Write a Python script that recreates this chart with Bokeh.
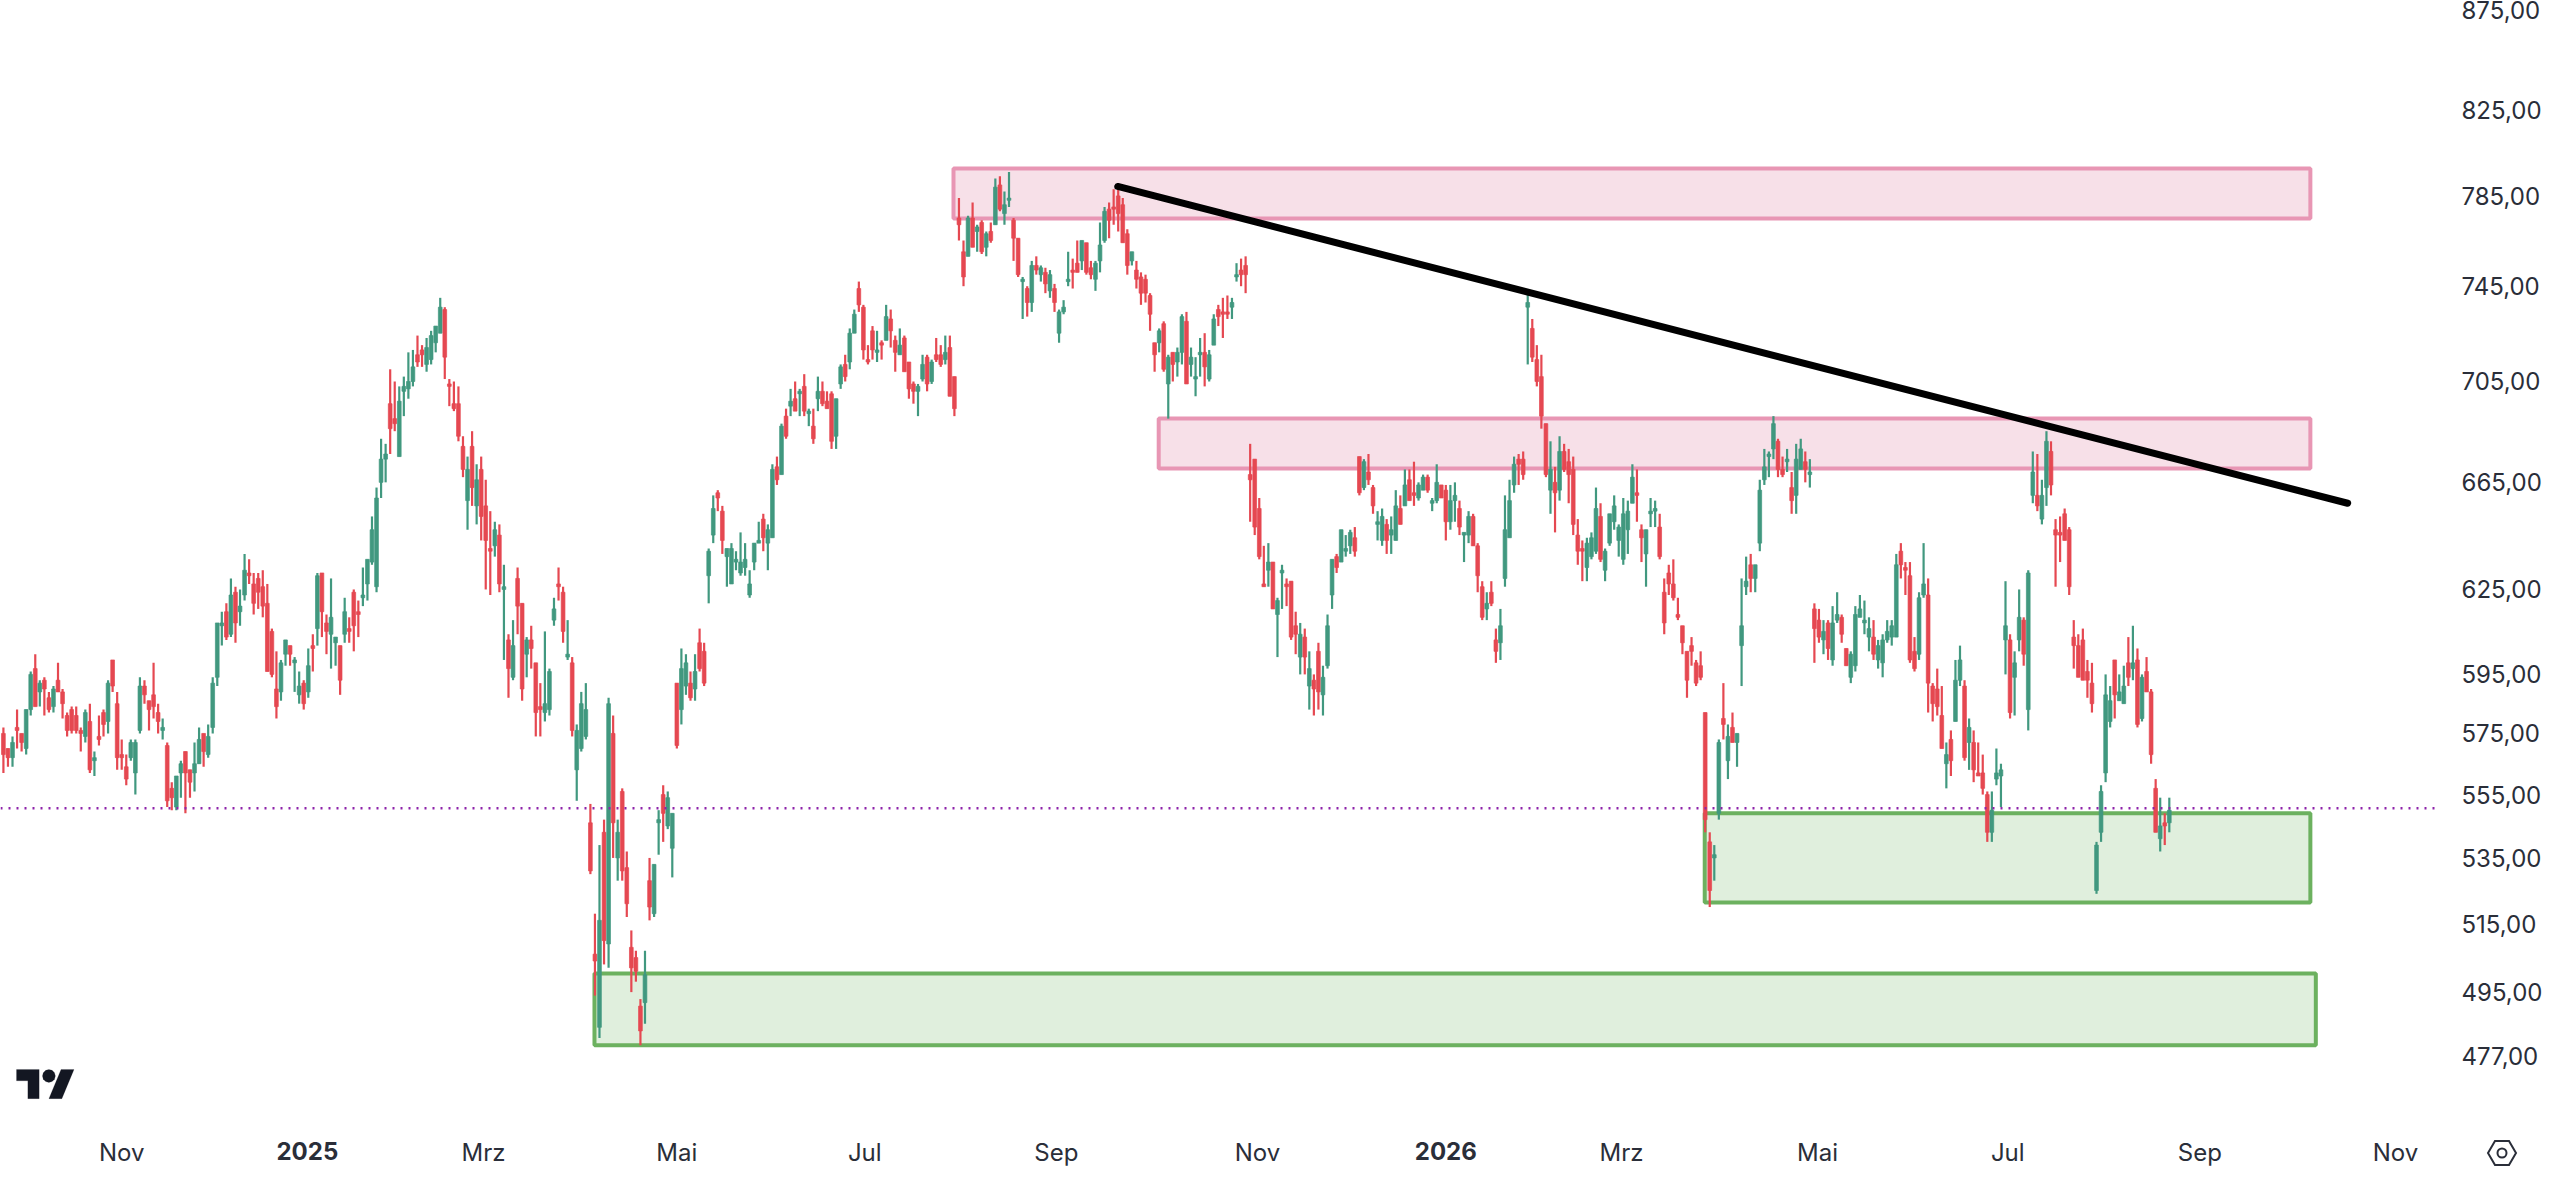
import math
from bokeh.plotting import figure
from bokeh.embed import file_html
from bokeh.resources import INLINE
from bokeh.models import Range1d, FixedTicker, LinearAxis, Span, PolyAnnotation, ColumnDataSource, Div

high = [
577,570,574,583,575,583,596,602,593,594, 589,591,599,590,582,584,584,577,583,585,
569,581,583,593,600,589,573,568,573,573, 594,593,586,599,585,580,572,559,561,566,
569,563,572,577,575,578,594,613,617,620, 629,626,625,638,636,631,631,632,627,611,
603,600,607,605,601,596,593,604,609,631, 631,616,629,608,605,622,615,625,621,633,
636,652,663,682,680,710,705,703,707,717, 718,724,720,723,726,728,740,736,706,705,
703,683,675,685,672,675,666,654,650,649, 634,609,614,633,620,608,612,599,592,610,
597,622,633,626,614,601,578,589,592,552, 518,539,547,587,581,547,557,537,513,507,
493,507,535,533,550,558,556,549,592,604, 602,596,602,611,606,640,660,662,656,640,
642,639,646,642,632,642,650,653,649,672, 675,688,694,702,705,702,708,694,694,707,
705,701,701,698,712,716,727,735,747,737, 720,728,726,722,737,735,724,727,724,713,
705,704,716,716,714,723,720,724,724,707, 784,765,776,782,772,774,769,773,793,794,
787,796,775,766,749,745,756,758,754,753, 752,746,735,739,760,757,765,765,764,756,
756,773,780,782,788,789,784,770,760,756, 751,750,742,721,727,730,716,717,719,733,
734,719,715,723,725,718,733,737,740,741, 740,755,757,758,680,674,659,641,642,635,
622,634,629,628,617,613,611,603,595,606, 598,616,636,638,647,645,647,648,675,674,
676,664,654,655,651,652,662,660,670,670, 673,665,668,668,659,672,664,664,664,665,
658,646,654,653,642,628,624,628,611,618, 660,666,675,676,677,743,731,720,716,688,
681,671,683,680,678,675,651,643,644,646, 663,657,640,653,660,649,659,658,672,670,
649,647,659,658,653,629,634,636,622,612, 603,608,600,603,582,543,539,573,592,578,
582,575,629,637,638,634,666,678,677,691, 682,675,678,669,680,682,677,674,620,618,
614,614,619,624,616,604,603,619,623,621, 615,614,607,609,614,614,638,642,635,635,
608,624,642,629,592,597,591,572,576,600, 605,593,580,576,572,568,556,556,570,565,
628,609,603,625,615,632,677,676,666,685, 681,651,652,655,648,614,609,611,600,599,
540,558,595,591,600,595,598,608,612,604, 595,601,590,560,554,549,554,
]
body_top = [
575,570,572,577,575,583,595,597,592,593, 587,590,593,589,581,583,581,576,582,579,
567,574,582,592,600,585,568,564,572,572, 591,591,586,588,582,577,571,557,561,565,
569,563,565,573,575,574,592,613,613,617, 623,624,619,632,631,627,629,626,620,610,
590,599,607,605,600,591,592,598,605,630, 631,613,615,608,605,617,611,624,617,623,
636,647,659,674,676,696,690,697,703,705, 711,716,718,719,724,728,736,735,704,696,
696,679,670,679,666,670,656,640,647,645, 626,607,605,629,620,607,607,599,584,585,
596,618,627,624,602,599,576,585,583,546, 506,516,543,585,575,543,556,532,508,505,
491,500,528,533,547,555,554,549,592,597, 599,592,596,606,603,639,655,661,654,640,
640,636,635,636,627,642,643,651,647,670, 671,687,691,697,698,701,703,693,687,701,
701,697,700,698,711,712,725,733,744,736, 714,726,718,721,732,731,722,720,723,713,
704,703,712,715,713,716,716,717,719,707, 775,760,775,775,771,773,768,769,789,790,
781,784,774,766,748,744,754,754,753,751, 750,744,734,736,748,752,755,765,764,753,
755,763,778,779,780,785,781,768,760,752, 749,748,741,721,726,729,715,717,717,732,
730,715,707,717,717,716,731,735,734,734, 738,750,752,754,668,674,655,627,635,635,
621,632,627,628,612,609,608,597,593,603, 594,612,636,637,647,640,646,644,675,673,
669,663,650,652,649,647,656,655,664,666, 661,664,667,667,658,665,664,662,658,660,
655,646,652,652,641,626,620,624,607,612, 647,658,672,674,674,738,727,714,707,688,
670,665,677,677,673,670,645,640,642,644, 655,652,639,653,656,648,653,654,667,661,
647,647,654,655,648,624,631,627,616,612, 603,605,599,598,582,540,536,572,580,574,
577,575,612,628,634,634,662,671,676,688, 681,670,674,663,674,678,673,669,618,614,
610,613,613,616,615,604,602,616,618,614, 611,608,605,607,610,612,634,639,633,630,
603,622,627,623,591,590,581,568,573,593, 600,591,577,572,562,562,555,550,562,563,
612,607,599,615,614,631,669,660,660,681, 677,647,646,653,647,608,605,607,596,592,
539,556,588,586,600,589,591,599,599,600, 594,596,589,557,545,546,550,
]
body_bottom = [
568,567,567,576,572,570,583,584,589,590, 583,584,589,585,576,576,576,575,574,563,
566,573,578,579,591,567,567,560,567,562, 576,588,583,584,579,576,553,554,551,562,
562,559,562,565,569,568,577,594,612,608, 609,613,617,623,630,620,624,619,596,595,
584,589,602,602,599,588,585,589,604,611, 617,610,609,606,593,609,610,612,616,622,
627,635,626,665,674,686,688,675,701,702, 705,713,716,712,714,721,725,715,703,694,
683,670,658,663,656,652,643,639,641,627, 625,597,594,619,590,602,604,582,583,582,
583,614,626,610,601,576,563,570,574,531, 504,485,510,509,546,535,531,521,502,501,
484,492,520,518,546,549,545,538,571,583, 591,587,590,597,592,630,645,659,643,637,
627,635,631,633,623,635,642,644,642,644, 666,668,683,695,693,700,693,692,682,698,
696,694,681,683,704,707,713,725,737,718, 713,718,717,720,722,726,717,716,709,702,
701,701,706,704,705,714,712,714,699,694, 772,749,758,762,769,760,762,765,772,779,
777,783,766,750,747,738,738,752,750,746, 743,738,725,734,747,751,751,756,751,750,
748,756,765,774,779,777,764,754,756,748, 742,742,733,716,721,710,704,712,713,717,
704,712,706,716,711,706,720,732,733,733, 736,749,750,750,666,648,637,626,632,618,
616,631,626,608,609,601,601,591,590,589, 588,598,623,633,635,639,641,639,661,663,
666,656,649,643,643,645,643,649,656,658, 660,659,662,662,657,658,659,650,650,658,
648,645,645,641,630,615,618,620,603,606, 629,644,664,672,668,736,715,705,691,668,
662,661,662,670,668,649,639,639,633,637, 639,636,632,642,650,643,636,647,657,660,
644,638,653,654,637,613,627,622,615,606, 593,603,592,594,547,525,535,549,578,566,
572,572,605,626,629,629,642,666,675,678, 670,668,673,658,660,670,670,668,611,608,
607,604,600,614,609,598,594,598,615,613, 608,602,600,599,607,608,608,634,632,600,
597,602,623,592,585,584,570,565,566,579, 593,567,572,563,561,557,543,543,560,561,
607,582,594,607,602,583,660,656,651,663, 664,645,645,643,626,605,594,593,593,585,
525,543,562,579,588,586,585,594,597,578, 580,589,568,543,541,545,546,
]
low = [
562,564,564,570,569,568,581,584,584,581, 582,582,589,580,574,575,575,569,572,562,
561,571,574,575,589,563,563,558,566,555, 575,585,576,580,575,573,551,550,550,554,
549,554,556,565,564,567,575,591,605,607, 608,606,612,621,627,616,618,615,596,594,
580,586,598,598,589,585,583,587,596,605, 608,602,597,598,588,606,606,603,608,619,
621,634,624,659,665,676,685,675,691,698, 703,711,711,709,712,717,725,706,695,693,
681,667,647,656,649,643,625,623,637,624, 600,587,593,609,586,594,597,574,574,579,
581,612,621,606,600,574,553,569,573,530, 494,482,503,502,535,528,528,517,495,498,
480,486,516,517,536,540,544,529,570,578, 588,586,586,596,591,620,642,654,638,626,
627,632,630,630,622,632,642,639,632,644, 664,668,682,691,693,691,691,687,680,693,
695,694,678,678,702,705,710,725,734,714, 712,714,713,714,722,719,709,716,709,698,
696,691,705,701,704,713,711,712,699,691, 765,745,758,762,760,759,758,764,772,778,
772,780,756,749,731,732,734,750,747,742, 740,734,721,733,745,744,751,752,750,748,
743,751,764,766,772,769,764,750,754,744, 737,738,726,709,717,709,690,705,707,712,
704,707,699,707,703,705,720,728,723,731, 731,747,745,742,650,645,636,626,626,618,
601,618,619,607,602,595,595,583,581,583, 581,597,618,631,635,637,638,637,660,662,
664,653,643,641,638,638,643,649,656,658, 656,658,662,661,654,657,659,643,647,650,
645,635,642,641,624,614,614,619,599,600, 626,644,661,664,666,712,713,703,686,667,
653,646,658,669,657,645,634,628,628,636, 638,635,628,641,647,637,634,638,657,650,
635,626,648,648,636,609,623,621,614,602, 587,598,591,593,543,520,528,547,573,560,
572,564,591,623,624,624,639,664,667,674, 667,667,669,653,653,670,665,663,599,606,
602,600,598,613,606,598,592,596,615,609, 603,600,597,594,606,605,608,629,623,599,
596,600,622,582,579,581,570,557,561,579, 591,566,563,559,561,555,540,540,558,551,
595,580,581,603,598,576,657,654,649,656, 660,626,635,643,623,597,594,593,587,582,
524,540,559,577,580,586,585,591,593,577, 579,589,565,543,537,539,543,
]
direction = (
"RRGRRGGRGR" "RGRRRRRRGR" "GRRGRRRRGG" "GRRRRGRRGG" "RRGGRGGGGR" "GRGGRRRRRR"
"RGGRGGRGRG" "RRGGRGRRRG" "GGGGGRRGGG" "GRRGGGGRRR" "RRGRGRRRGR" "GRGRRGRRRG"
"GGRRGRGGGR" "RGRGRGRRRR" "RGRGGRGGRG" "GRGRRGGRRG" "GGGGGGGRGG" "RGRGRGRGRG"
"RRRGGRGGRR" "RRGRGRRGRR" "RGGRGRRGRR" "RRGRGRGRGR" "GGRRGRGRGR" "GRGGGRRGRR"
"GGGRRRRRGR" "RRRRGRGRGG" "RGGGRGGRRR" "GGRRRRRRGR" "GGRRRGRGRR" "GGGRGGGRRG"
"RRGGRGGRGR" "RGGRGGRRGG" "RGGRRRGRRG" "GGGRRGRRRR" "GRGRRRRRGG" "GRGGGGGGGR"
"RGGGRRRRRR" "RRRRRRGGRG" "RGGGRGGGGG" "RRGRGGRGRR" "GRGGRRGGGG" "GRGGGGGRRR"
"RGGRRRRGRG" "GRGRRRRGGG" "GRGGRGGRGG" "RRRRRRRRRR" "GGGGRGGRGR" "GRRRGRG"
)

price_ticks = [875, 825, 785, 745, 705, 665, 625, 595, 575, 555, 535, 515, 495, 477]
month_ticks = [26, 105.5, 148, 189.3, 231.4, 275.6, 355.6, 398.7, 440.5, 482.7, 525.7]
month_labels = ["Nov", "Mrz", "Mai", "Jul", "Sep", "Nov", "Mrz", "Mai", "Jul", "Sep", "Nov"]
year_ticks = [66.8, 317]
year_labels = ["2025", "2026"]

zone_left = [208.8, 253.9, 373.9, 129.9]
zone_right = [507.0, 507.0, 507.0, 508.2]
zone_top = [797.6, 690.1, 549.0, 500.4]
zone_bottom = [774.8, 670.4, 521.4, 480.0]
zone_fill = ["#ca3066", "#ca3066", "#30941c", "#30941c"]
zone_line = ["#e896b4", "#e896b4", "#6cb15f", "#6cb15f"]

trend_x = [244.9, 515.2]
trend_y = [789.3, 657.0]
level_price = 550.6

assert len(high) == len(low) == len(body_top) == len(body_bottom) == len(direction)

RED, GREEN = "#e54851", "#41987f"
INK = "#2a2e39"
FONT = "Inter"
FONT_SIZE = "24px"
colors = [GREEN if d == "G" else RED for d in direction]
xs = list(range(len(high)))

W, H = 2560, 1179
FRAME_R, FRAME_B = 2440, 1125
p = figure(
    width=W, height=H, output_backend="svg", toolbar_location=None,
    x_range=Range1d(-0.64, 535.6), y_range=Range1d(458.2, 879.06),
    y_axis_type="log", y_axis_location="right",
    min_border_left=0, min_border_top=0, min_border_right=W - FRAME_R, min_border_bottom=H - FRAME_B,
    background_fill_color="white", border_fill_color="white", outline_line_color=None,
)
p.grid.visible = False

yax = p.yaxis[0]
yax.ticker = FixedTicker(ticks=price_ticks)
yax.major_label_overrides = {t: f"{t},00" for t in price_ticks}
xax = p.xaxis[0]
xax.ticker = FixedTicker(ticks=month_ticks)
xax.major_label_overrides = dict(zip(month_ticks, month_labels))
xax.major_label_standoff = 12
yax.major_label_standoff = 21

year_ax = LinearAxis(ticker=FixedTicker(ticks=year_ticks),
                     major_label_overrides=dict(zip(year_ticks, year_labels)),
                     major_label_text_font_style="bold", major_label_standoff=-28)
p.add_layout(year_ax, "below")

for ax in (xax, yax, year_ax):
    ax.axis_line_color = None
    ax.major_tick_line_color = None
    ax.minor_tick_line_color = None
    ax.major_tick_in = 0
    ax.major_tick_out = 0
    ax.major_label_text_font = FONT
    ax.major_label_text_font_size = FONT_SIZE
    ax.major_label_text_color = INK

p.quad(left=zone_left, right=zone_right, top=zone_top, bottom=zone_bottom,
       fill_color=zone_fill, fill_alpha=0.15, line_color=zone_line, line_width=4)

src = ColumnDataSource(dict(x=xs, high=high, low=low, top=body_top, bottom=body_bottom, color=colors))
p.segment(x0="x", x1="x", y0="low", y1="high", source=src, line_color="color", line_width=2.2)
p.vbar(x="x", width=0.82, top="top", bottom="bottom", source=src,
       fill_color="color", line_color="color", line_width=0.7)

p.add_layout(Span(location=level_price, dimension="width", line_color="#8e24aa",
                  line_width=2.4, line_dash="2 6"))
p.line(trend_x, trend_y, line_color="black", line_width=7, line_cap="round")

# TradingView mark, drawn in page pixels
s, ox, oy = 1.62, 16, 1062.5
tv_T = [(0, 4), (14, 4), (14, 22), (7, 22), (7, 11), (0, 11)]
tv_V = [(20, 22), (28, 22), (35.5, 4), (27.5, 4)]
tv_dot = [(20 + 4 * math.cos(a / 12 * 2 * math.pi), 8 + 4 * math.sin(a / 12 * 2 * math.pi)) for a in range(12)]
for shape in (tv_T, tv_V, tv_dot):
    p.add_layout(PolyAnnotation(xs=[ox + a * s for a, _ in shape], ys=[oy + b * s for _, b in shape],
                                xs_units="canvas", ys_units="canvas",
                                fill_color="#131722", fill_alpha=1, line_color="#131722", line_width=0.5))

# Settings icon in the bottom right corner
gear_svg = (
    f'<svg xmlns="http://www.w3.org/2000/svg" width="32" height="28" viewBox="0 0 32 28">'
    f'<polygon points="2,14 9,2 23,2 30,14 23,26 9,26" fill="none" stroke="{INK}" stroke-width="2"/>'
    f'<circle cx="16" cy="14" r="4.5" fill="none" stroke="{INK}" stroke-width="2"/></svg>'
)
p.elements = [Div(text=gear_svg, styles={"position": "absolute", "left": "2486px", "top": "1139px",
                                         "width": "32px", "height": "28px", "margin": "0"})]

open("out.html", "w").write(file_html(p, INLINE))
